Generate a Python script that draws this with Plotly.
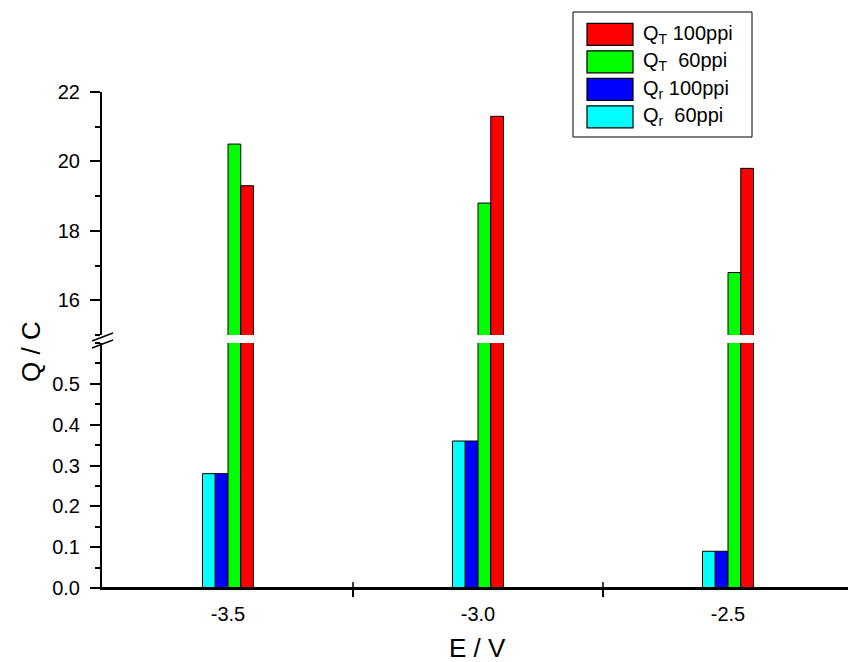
import plotly.graph_objects as go

# Charge passed at each electrode potential, for two foam porosities
potentials = [-3.5, -3.0, -2.5]
q_r_60ppi = [0.28, 0.36, 0.09]
q_r_100ppi = [0.28, 0.36, 0.09]
q_t_60ppi = [20.5, 18.8, 16.8]
q_t_100ppi = [19.3, 21.3, 19.8]

x_tick_labels = ["-3.5", "-3.0", "-2.5"]
x_divider_ticks = [-3.25, -2.75]

W, H = 848, 662
FONT = "Arial, Liberation Sans, sans-serif"


def px_x(p):
    return p / W


def px_y(p):
    return 1 - p / H


bar_w = 0.0255
series = [
    # name, values, colour, left-edge offset (in bar widths), shown in upper panel
    ("Q<sub>r</sub>  60ppi", q_r_60ppi, "#00FFFF", -2, False),
    ("Q<sub>r</sub> 100ppi", q_r_100ppi, "#0000FF", -1, False),
    ("Q<sub>T</sub>  60ppi", q_t_60ppi, "#00FF00", 0, True),
    ("Q<sub>T</sub> 100ppi", q_t_100ppi, "#FF0000", 1, True),
]

fig = go.Figure()
for name, vals, color, off, upper in series:
    panels = [("x", "y")] + ([("x2", "y2")] if upper else [])
    for xa, ya in panels:
        fig.add_trace(go.Bar(
            x=potentials, y=vals, name=name, xaxis=xa, yaxis=ya,
            width=bar_w, offset=off * bar_w,
            marker=dict(color=color, line=dict(color="black", width=1)),
            showlegend=False, cliponaxis=True,
        ))

x_dom = [px_x(102), 1.0]
lower_dom = [px_y(588), px_y(343)]
upper_dom = [px_y(335), px_y(92)]
x_range = [-3.752, -2.26]

axis_common = dict(
    showline=True, linecolor="black", linewidth=2,
    ticks="outside", tickcolor="black", tickwidth=1.5,
    showgrid=False, zeroline=False, automargin=False,
    tickfont=dict(family=FONT, size=20, color="black"),
)

fig.update_layout(
    width=W, height=H,
    margin=dict(l=0, r=0, t=0, b=0, pad=0, autoexpand=False),
    paper_bgcolor="white", plot_bgcolor="white",
    barmode="overlay", showlegend=False,
    font=dict(family=FONT, color="black"),
    xaxis=dict(
        domain=x_dom, range=x_range, anchor="y", automargin=False,
        showline=True, linecolor="black", linewidth=2,
        tickmode="array", tickvals=potentials, ticktext=x_tick_labels,
        ticks="outside", ticklen=0, ticklabelstandoff=7,
        tickfont=dict(family=FONT, size=20, color="black"),
        minor=dict(tickmode="array", tickvals=x_divider_ticks,
                   ticks="outside", ticklen=7, tickwidth=1.5, tickcolor="black"),
        showgrid=False, zeroline=False,
    ),
    xaxis2=dict(
        domain=x_dom, range=x_range, anchor="y2", matches="x",
        visible=False, automargin=False,
    ),
    yaxis=dict(
        domain=lower_dom, range=[0, 0.6], anchor="x",
        tickmode="array", tickvals=[0, 0.1, 0.2, 0.3, 0.4, 0.5],
        tickformat=".1f", ticklen=10, ticklabelstandoff=6,
        minor=dict(dtick=0.05, ticks="outside", ticklen=5,
                   tickwidth=1.5, tickcolor="black"),
        **axis_common,
    ),
    yaxis2=dict(
        domain=upper_dom, range=[15, 22], anchor="x2",
        tickmode="array", tickvals=[16, 18, 20, 22],
        ticklen=10, ticklabelstandoff=6,
        minor=dict(dtick=1, ticks="outside", ticklen=5,
                   tickwidth=1.5, tickcolor="black"),
        **axis_common,
    ),
)

shapes = []
# baseline carried through to the right edge of the frame
shapes.append(dict(type="line", xref="paper", yref="paper",
                   x0=px_x(102), x1=1.0, y0=px_y(588), y1=px_y(588),
                   line=dict(color="black", width=2)))
# upward half of the divider ticks on the potential axis
for xv in x_divider_ticks:
    shapes.append(dict(type="line", xref="x", yref="paper",
                       x0=xv, x1=xv, y0=px_y(588), y1=px_y(582),
                       line=dict(color="black", width=1.5)))
# axis-break marks
for dy in (0, 7):
    shapes.append(dict(type="line", xref="paper", yref="paper",
                       x0=px_x(92), y0=px_y(341 + dy),
                       x1=px_x(113), y1=px_y(333 + dy),
                       line=dict(color="black", width=1.5)))

# legend frame
shapes.append(dict(type="rect", xref="paper", yref="paper",
                   x0=px_x(573), x1=px_x(752), y0=px_y(137), y1=px_y(12),
                   line=dict(color="black", width=1), fillcolor="white"))

annotations = []
legend_order = [series[3], series[2], series[1], series[0]]
row_top = 23.3
row_step = 27.5
sw_h = 22
for i, (name, _, color, _, _) in enumerate(legend_order):
    top = row_top + i * row_step
    shapes.append(dict(type="rect", xref="paper", yref="paper",
                       x0=px_x(587), x1=px_x(633),
                       y0=px_y(top + sw_h), y1=px_y(top),
                       line=dict(color="black", width=1.2), fillcolor=color))
    annotations.append(dict(
        xref="paper", yref="paper", x=px_x(641), y=px_y(top + sw_h / 2),
        xanchor="left", yanchor="middle", showarrow=False,
        text=name.replace("  ", " &nbsp;"),
        font=dict(family=FONT, size=20, color="black"),
    ))

# axis titles
annotations.append(dict(
    xref="paper", yref="paper", x=px_x(478), y=px_y(648),
    xanchor="center", yanchor="middle", showarrow=False,
    text="E / V", font=dict(family=FONT, size=26, color="black"),
))
annotations.append(dict(
    xref="paper", yref="paper", x=px_x(31), y=px_y(352),
    xanchor="center", yanchor="middle", showarrow=False, textangle=-90,
    text="Q / C", font=dict(family=FONT, size=26, color="black"),
))

fig.update_layout(shapes=shapes, annotations=annotations)

fig.write_html("out.html")
